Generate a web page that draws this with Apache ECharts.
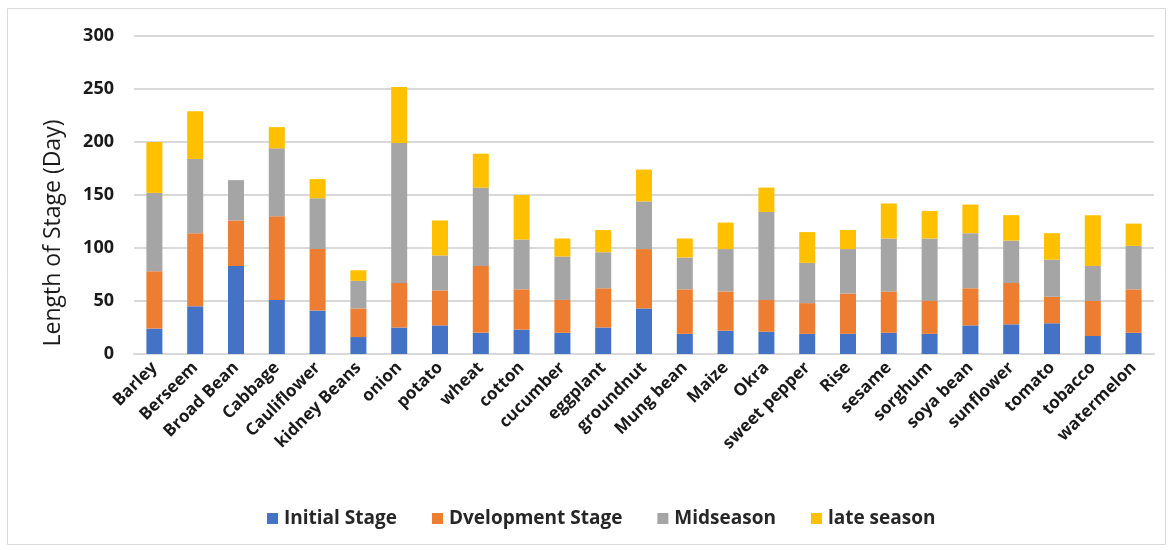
<!DOCTYPE html>
<html><head><meta charset="utf-8">
<script src="https://cdn.jsdelivr.net/npm/echarts@6/dist/echarts.min.js"></script>
<style>html,body{margin:0;padding:0;background:#fff}#c{width:1175px;height:550px}</style>
</head><body><div id="c"></div>
<script>
const cats = ["Barley","Berseem","Broad Bean","Cabbage","Cauliflower","kidney Beans","onion","potato","wheat","cotton","cucumber","eggplant","groundnut","Mung bean","Maize","Okra","sweet pepper","Rise","sesame","sorghum","soya bean","sunflower","tomato","tobacco","watermelon"];
const initialStage = [24,45,83,51,41,16,25,27,20,23,20,25,43,19,22,21,19,19,20,19,27,28,29,17,20];
const developmentStage = [54,69,43,79,58,27,42,33,63,38,31,37,56,42,37,30,29,38,39,31,35,39,25,33,41];
const midseason = [74,70,38,64,48,26,132,33,74,47,41,34,45,30,40,83,38,42,50,59,52,40,35,33,41];
const lateSeason = [48,45,0,20,18,10,53,33,32,42,17,21,30,18,25,23,29,18,33,26,27,24,25,48,21];
const yTicks = [0,50,100,150,200,250,300];

const chart = echarts.init(document.getElementById('c'));
const font = "'Open Sans', 'Liberation Sans', sans-serif";
function s(name, data, color){
  return {name, type:'bar', stack:'t', data, barWidth:16,
    itemStyle:{color}, emphasis:{disabled:true}};
}
chart.setOption({
  animation:false,
  textStyle:{fontFamily:font},
  graphic:[{type:'rect', shape:{x:7.5,y:8.5,width:1158,height:536}, style:{fill:'none', stroke:'#d9d9d9', lineWidth:1}, silent:true}],
  grid:{left:134, right:21, top:36, bottom:196, containLabel:false},
  legend:{bottom:17, left:262, itemWidth:11, itemHeight:11, itemGap:35, icon:'rect',
    textStyle:{fontFamily:font, fontSize:19, fontWeight:'bold', color:'#262626', padding:[0,0,0,1]},
    data:['Initial Stage','Dvelopment Stage','Midseason','late season']},
  xAxis:{type:'category', data:cats,
    axisLine:{show:true, lineStyle:{color:'#d9d9d9', width:2}}, axisTick:{show:false},
    axisLabel:{rotate:45, interval:0, fontFamily:font, fontSize:17, fontWeight:'bold', color:'#1a1a1a', margin:11}},
  yAxis:{type:'value', min:yTicks[0], max:yTicks[yTicks.length-1], interval:yTicks[1]-yTicks[0],
    name:'Length of Stage (Day)', nameLocation:'middle', nameGap:69, nameRotate:90,
    nameTextStyle:{fontFamily:font, fontSize:23, fontWeight:'normal', color:'#1a1a1a', padding:[0,76,0,0]},
    axisLine:{show:false}, axisTick:{show:false},
    splitLine:{lineStyle:{color:'#d9d9d9', width:2}},
    axisLabel:{fontFamily:font, fontSize:18, fontWeight:'bold', color:'#1a1a1a', margin:20}},
  series:[
    s('Initial Stage', initialStage, '#4472C4'),
    s('Dvelopment Stage', developmentStage, '#ED7D31'),
    s('Midseason', midseason, '#A5A5A5'),
    s('late season', lateSeason, '#FFC000')
  ]
});
</script>
</body></html>
